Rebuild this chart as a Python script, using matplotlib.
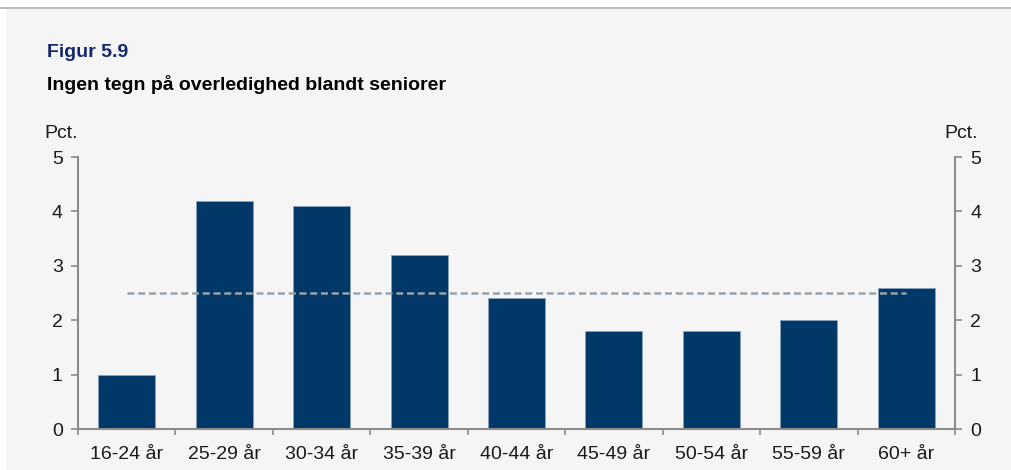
import matplotlib
matplotlib.use("Agg")
import matplotlib.pyplot as plt
from matplotlib.patches import Rectangle
from matplotlib.lines import Line2D

plt.rcParams['font.family'] = ['Liberation Sans', 'DejaVu Sans']

categories = ["16-24 år", "25-29 år", "30-34 år", "35-39 år", "40-44 år",
              "45-49 år", "50-54 år", "55-59 år", "60+ år"]
values = [1.0, 4.2, 4.1, 3.2, 2.4, 1.8, 1.8, 2.0, 2.6]
average = 2.5
yticks = [0, 1, 2, 3, 4, 5]

W, H = 1011, 470
fig = plt.figure(figsize=(W / 100, H / 100), dpi=100, facecolor='white')

# panel background and top rule
fig.patches.append(Rectangle((6 / W, 0), 1 - 6 / W, 1 - 9 / H, transform=fig.transFigure,
                             facecolor='#f5f5f5', edgecolor='none', zorder=-10))
fig.lines.append(Line2D([0, 1], [1 - 8 / H, 1 - 8 / H], transform=fig.transFigure,
                        color='#b0b0b0', linewidth=1.2, zorder=-5))

ax = fig.add_axes([78 / W, 41 / H, (955 - 78) / W, (429 - 157) / H])
ax.set_facecolor('none')
ax.set_zorder(5)

x = list(range(len(categories)))
ax.bar(x, values, width=0.585, color='#023867', edgecolor='#8aa3bd', linewidth=0.6, zorder=2)
ax.plot([x[0], x[-1]], [average, average], linestyle=(0, (2.8, 1.5)), color='#97a3ad',
        linewidth=1.8, zorder=3)

ax.set_xlim(-0.5, len(categories) - 0.5)
ax.set_ylim(0, 5)

spine_col = '#8c8c8c'
ax.spines['top'].set_visible(False)
for side in ['left', 'right', 'bottom']:
    ax.spines[side].set_color(spine_col)
    ax.spines[side].set_linewidth(1.5)

fs = 14
ax.set_yticks(yticks)
ax.tick_params(axis='y', which='both', left=True, right=True, labelleft=True, labelright=True,
               direction='out', length=5, width=1.2, color=spine_col, labelsize=fs,
               labelcolor='#1a1a1a', pad=6)

ax.set_xticks([i + 0.5 for i in range(-1, len(categories))])
ax.set_xticklabels([])
ax.set_xticks(x, minor=True)
ax.set_xticklabels(categories, minor=True)
ax.tick_params(axis='x', which='major', direction='out', length=4, width=1.2, color=spine_col)
ax.tick_params(axis='x', which='minor', length=0, labelsize=fs, labelcolor='#1a1a1a', pad=12)

fig.text(47 / W, 1 - 57 / H, "Figur 5.9", fontsize=14, fontweight='bold', color='#13286b',
         ha='left', va='baseline')
fig.text(47 / W, 1 - 89.5 / H, "Ingen tegn på overledighed blandt seniorer", fontsize=14,
         fontweight='bold', color='#000000', ha='left', va='baseline')
fig.text(44 / W, 1 - 138.5 / H, "Pct.", fontsize=fs, color='#1a1a1a', ha='left', va='baseline')
fig.text(978 / W, 1 - 138 / H, "Pct.", fontsize=fs, color='#1a1a1a', ha='right', va='baseline')

fig.savefig("out.png", dpi=100, facecolor=fig.get_facecolor())
